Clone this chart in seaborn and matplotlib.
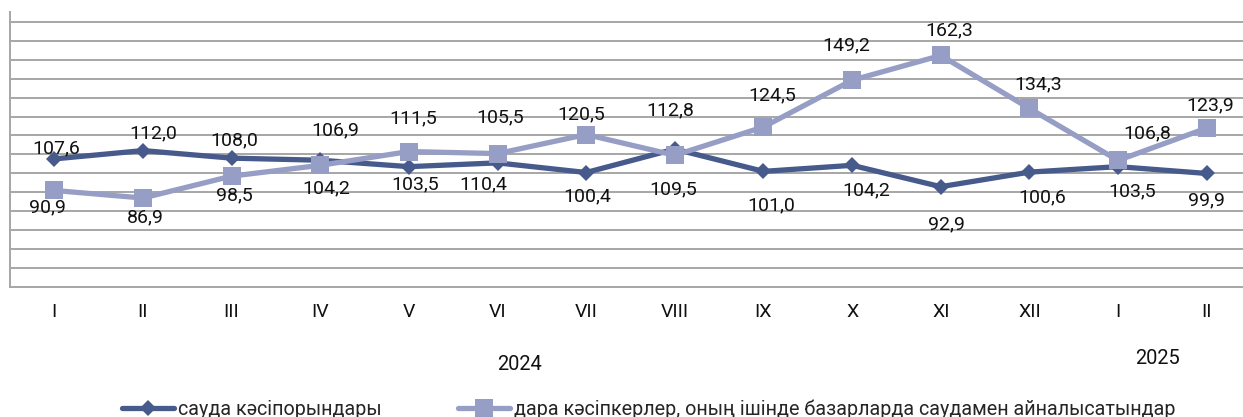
import matplotlib
matplotlib.use("Agg")
import matplotlib.pyplot as plt
import seaborn as sns
import pandas as pd

# chart data
months = ["I", "II", "III", "IV", "V", "VI", "VII", "VIII", "IX", "X", "XI", "XII", "I", "II"]
trade_firms = [107.6, 112.0, 108.0, 106.9, 103.5, 105.5, 100.4, 112.8, 101.0, 104.2, 92.9, 100.6, 103.5, 99.9]
entrepreneurs = [90.9, 86.9, 98.5, 104.2, 111.5, 110.4, 120.5, 109.5, 124.5, 149.2, 162.3, 134.3, 106.8, 123.9]
series_names = ["сауда кәсіпорындары",
                "дара кәсіпкерлер, оның ішінде базарларда саудамен айналысатындар"]
years = ["2024", "2025"]

DARK = "#475A8C"
LIGHT = "#969EC6"
GRID = "#A6A6A6"

# label offsets in pixels (dx, dy) - the original labels were nudged by hand
dark_offsets = [(2, 11), (10, 17), (3, 18), (15, 30), (6, -18), (3, 46), (1, -24),
                (-5, 39), (8, -34), (14, -25), (6, -38), (13, -25), (14, -25), (0, -27)]
light_offsets = [(-7, -17), (2, -19), (3, -19), (6, -23), (4, 33), (-14, -31), (-5, 20),
                 (-2, -34), (9, 32), (-6, 35), (8, 25), (9, 24), (29, 27), (4, 23)]

sns.set_style("white")
plt.rcParams["font.family"] = ["Roboto", "DejaVu Sans"]

df = pd.DataFrame({"x": range(len(months)), "trade": trade_firms, "ent": entrepreneurs})

fig = plt.figure(figsize=(12.43, 4.17), dpi=100)
ax = fig.add_axes([10 / 1243, 1 - 286.7 / 417, 1241 / 1243, (286.7 - 12) / 417])

sns.lineplot(data=df, x="x", y="trade", ax=ax, color=DARK, linewidth=3.8,
             marker="D", markersize=8.5, markeredgewidth=0, label=series_names[0],
             zorder=3, sort=False)
sns.lineplot(data=df, x="x", y="ent", ax=ax, color=LIGHT, linewidth=3.8,
             marker="s", markersize=12.5, markeredgewidth=0, label=series_names[1],
             zorder=4, sort=False)

for i, (a, b) in enumerate(zip(trade_firms, entrepreneurs)):
    for val, (dx, dy) in ((a, dark_offsets[i]), (b, light_offsets[i])):
        ax.annotate(f"{val:.1f}".replace(".", ","), (i, val), xytext=(dx, dy),
                    textcoords="offset pixels", ha="center", va="center",
                    fontsize=14, color="#111111", zorder=6)

ax.set_xlim(-0.5, len(months) - 0.5)
ax.set_ylim(40, 185.3)
ax.set_yticks(range(50, 190, 10))
ax.yaxis.grid(True, color=GRID, linewidth=1.4)
ax.set_yticklabels([])
ax.set_xticks(range(len(months)))
ax.set_xticklabels(months, fontsize=14)
ax.tick_params(axis="x", length=0, pad=12, colors="#111111")
ax.tick_params(axis="y", length=0)
ax.set_xlabel("")
ax.set_ylabel("")
for side in ("top", "right"):
    ax.spines[side].set_visible(False)
for side in ("left", "bottom"):
    ax.spines[side].set_color(GRID)
    ax.spines[side].set_linewidth(1.4)

fig.text(519 / 1243, 1 - 364 / 417, years[0], ha="center", va="center", fontsize=14.4, color="#111111")
fig.text(1157 / 1243, 1 - 359 / 417, years[1], ha="center", va="center", fontsize=14.4, color="#111111")

handles, labels = ax.get_legend_handles_labels()
ax.get_legend().remove()
fig.legend(handles, labels, loc="center left", bbox_to_anchor=(122 / 1243, 1 - 409 / 417),
           ncol=2, frameon=False, borderpad=0, borderaxespad=0, handlelength=2.64,
           handletextpad=0.2, columnspacing=3.85, fontsize=14.2)

fig.savefig("out.png", dpi=100)
